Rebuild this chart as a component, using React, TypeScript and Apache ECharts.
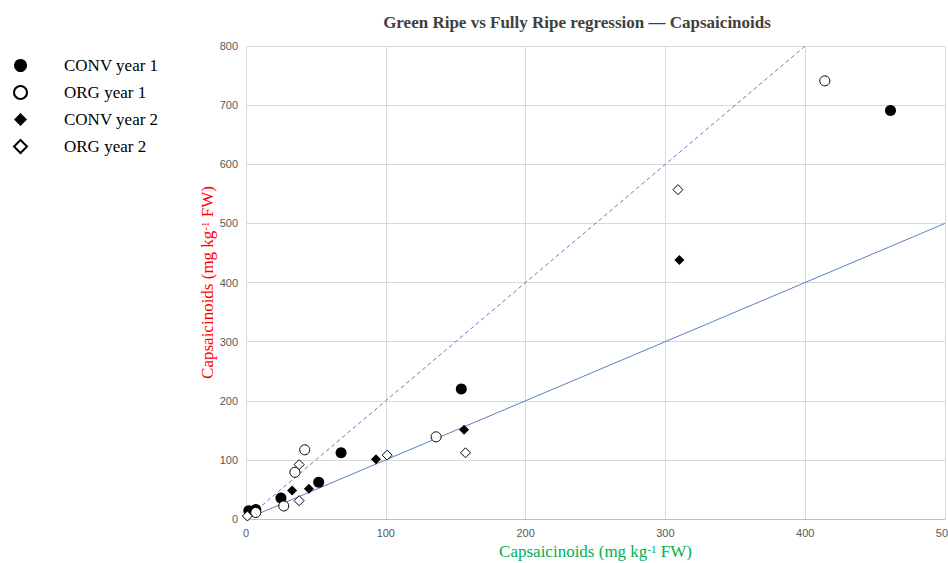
import React, { useEffect, useRef } from "react";
import * as echarts from "echarts";

const seriesNames = ["CONV year 1", "ORG year 1", "CONV year 2", "ORG year 2"];

const convYear1: [number, number][] = [
  [2, 14], [7, 16], [25, 35.5], [52, 62], [68, 112], [154, 220], [461, 691],
];
const orgYear1: [number, number][] = [
  [7, 11], [27, 22], [35, 79], [42, 117], [136, 139], [414, 741],
];
const convYear2: [number, number][] = [
  [33, 48], [45, 51], [93, 101], [156, 151], [310, 438],
];
const orgYear2: [number, number][] = [
  [1, 5], [38, 31], [38, 92], [101, 108], [157, 112], [309, 557],
];

const lineOneToOne: [number, number][] = [[0, 0], [500, 500]];
const lineTwoToOne: [number, number][] = [[0, 0], [400, 800]];

const titleText = "Green Ripe vs Fully Ripe regression \u2014 Capsaicinoids";
const axisNameText = "Capsaicinoids (mg kg{sup|-1} FW)";

export default function App() {
  const ref = useRef<HTMLDivElement>(null);
  useEffect(() => {
    document.body.style.margin = "0";
    const chart = echarts.init(ref.current!, undefined, { renderer: "svg" });
    const serif = "'Liberation Serif', 'Times New Roman', serif";
    const sans = "'Liberation Sans', Arial, sans-serif";
    const lineColor = "#5a7fc4";
    const supRich = {
      sup: { fontSize: 11, fontFamily: serif, verticalAlign: "top" as const, padding: [0, 0, 6, 0] },
    };
    chart.setOption({
      animation: false,
      backgroundColor: "#ffffff",
      title: {
        text: titleText,
        left: 572,
        textAlign: "center",
        top: 9,
        textStyle: { fontFamily: serif, fontSize: 17, fontWeight: "bold", color: "#404040" },
      },
      legend: {
        data: seriesNames,
        orient: "vertical",
        left: 8,
        top: 52,
        padding: 5,
        itemWidth: 13,
        itemHeight: 13,
        itemGap: 10,
        textStyle: { fontFamily: serif, fontSize: 17, color: "#000", padding: [0, 0, 0, 32] },
      },
      grid: { left: 246, right: 3, top: 46, bottom: 44, outerBoundsMode: "none", containLabel: false },
      xAxis: {
        type: "value",
        min: 0,
        max: 500,
        interval: 100,
        name: axisNameText,
        nameLocation: "middle",
        nameGap: 24,
        nameTextStyle: { fontFamily: serif, fontSize: 17, color: "#00b050", rich: supRich },
        axisLine: { show: true, lineStyle: { color: "#bfbfbf" } },
        axisTick: { show: false },
        axisLabel: { color: "#595959", fontFamily: sans, fontSize: 11, margin: 8 },
        splitLine: { show: true, lineStyle: { color: "#d9d9d9" } },
      },
      yAxis: {
        type: "value",
        min: 0,
        max: 800,
        interval: 100,
        name: axisNameText,
        nameLocation: "middle",
        nameGap: 30,
        nameMoveOverlap: false,
        nameTextStyle: { fontFamily: serif, fontSize: 17, color: "#ff0000", rich: supRich },
        axisLine: { show: false },
        axisTick: { show: false },
        axisLabel: { color: "#595959", fontFamily: sans, fontSize: 11, margin: 8 },
        splitLine: { show: true, lineStyle: { color: "#d9d9d9" } },
      },
      series: [
        {
          type: "line",
          data: lineOneToOne,
          showSymbol: false,
          silent: true,
          lineStyle: { color: lineColor, width: 1 },
          z: 1,
        },
        {
          type: "line",
          data: lineTwoToOne,
          showSymbol: false,
          silent: true,
          lineStyle: { color: lineColor, width: 1, type: [4, 3] },
          z: 1,
        },
        {
          name: seriesNames[0],
          type: "scatter",
          data: convYear1,
          symbol: "circle",
          symbolSize: 11,
          itemStyle: { color: "#000000", borderColor: "#000000", borderWidth: 0, opacity: 1 },
          z: 3,
        },
        {
          name: seriesNames[1],
          type: "scatter",
          data: orgYear1,
          symbol: "circle",
          symbolSize: 10,
          itemStyle: { color: "#ffffff", borderColor: "#000000", borderWidth: 1, opacity: 1 },
          z: 3,
        },
        {
          name: seriesNames[2],
          type: "scatter",
          data: convYear2,
          symbol: "diamond",
          symbolSize: 10,
          itemStyle: { color: "#000000", borderColor: "#000000", borderWidth: 0, opacity: 1 },
          z: 3,
        },
        {
          name: seriesNames[3],
          type: "scatter",
          data: orgYear2,
          symbol: "diamond",
          symbolSize: 10,
          itemStyle: { color: "#ffffff", borderColor: "#000000", borderWidth: 1, opacity: 1 },
          z: 3,
        },
      ],
    });
    return () => chart.dispose();
  }, []);
  return (
    <div
      ref={ref}
      style={{ position: "absolute", left: 0, top: 0, width: 948, height: 563 }}
    />
  );
}
